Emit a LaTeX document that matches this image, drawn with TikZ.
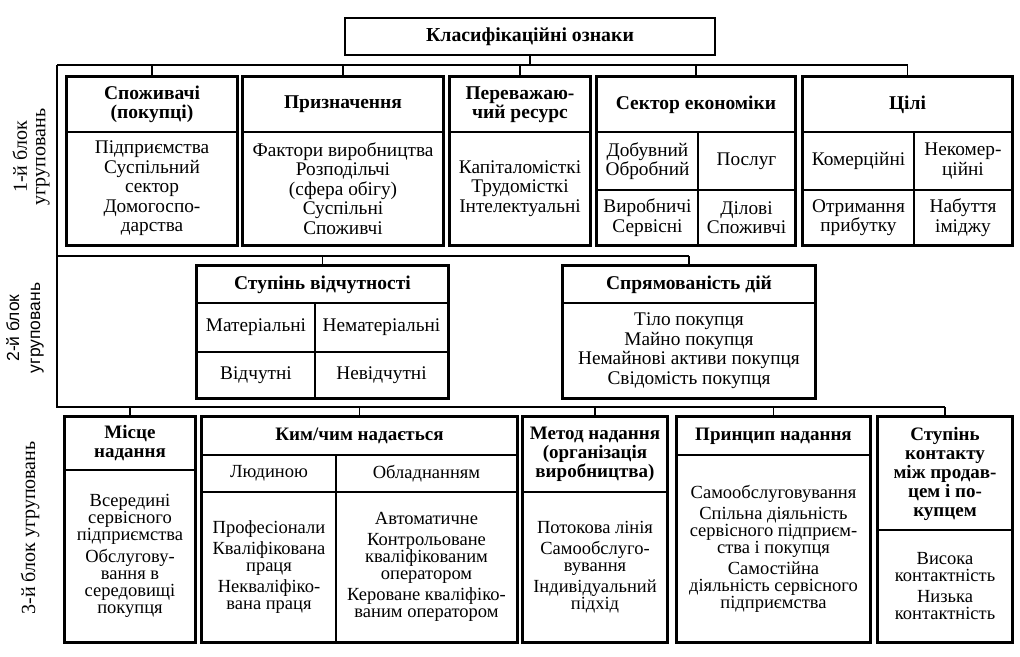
\documentclass[tikz,border=0pt]{standalone}
\usepackage{fontspec}
\setmainfont{Liberation Serif}
\setsansfont{Liberation Sans}
\usepackage{tikz}
\usetikzlibrary{fit}
\newcommand\bodyfont{\fontsize{19.3}{19.5}\selectfont}
\newcommand\tightfont{\fontsize{18.5}{17}\selectfont}

\begin{document}
\begin{tikzpicture}[x=1pt, y=-1pt,
cell/.style={draw, line width=1.1pt, inner sep=0pt, align=center, font=\bodyfont},
headcell/.style={cell, font=\fontsize{19.5}{19.5}\selectfont\bfseries},
lowcell/.style={cell, font=\tightfont},
lowhead/.style={cell, font=\fontsize{19}{19}\selectfont\bfseries},
outerbox/.style={draw, line width=2.4pt, inner sep=0pt},
bus/.style={line width=1.8pt}
]
\useasboundingbox (0,0) rectangle (1020,656);

\node[outerbox, font=\fontsize{19.8}{20}\selectfont\bfseries, minimum width=370, minimum height=37] (title) at (530,36.5) {Класифікаційні ознаки};

% 1-й блок
\node[headcell, minimum width=170, minimum height=55] (spoH) at (152,104.5) {Споживачі\\(покупці)};
\node[cell, minimum width=170, minimum height=113] (spoB) at (152,188.5) {Підприємства\\Суспільний\\сектор\\Домогоспо-\\дарства};
\node[outerbox, fit=(spoH)(spoB)] (spo) {};

\node[headcell, minimum width=200, minimum height=55] (pryH) at (343,104.5) {Призначення};
\node[cell, minimum width=200, minimum height=113] (pryB) at (343,188.5) {Фактори виробництва\\Розподільчі\\(сфера обігу)\\Суспільні\\Споживчі};
\node[outerbox, fit=(pryH)(pryB)] (pry) {};

\node[headcell, minimum width=140, minimum height=55] (perH) at (520,104.5) {Переважаю-\\чий ресурс};
\node[cell, minimum width=140, minimum height=113] (perB) at (520,188.5) {Капіталомісткі\\Трудомісткі\\Інтелектуальні};
\node[outerbox, fit=(perH)(perB)] (per) {};

\node[headcell, minimum width=198, minimum height=55] (sekH) at (696,104.5) {Сектор економіки};
\node[cell, minimum width=101, minimum height=58] (sekA) at (647.5,161) {Добувний\\Обробний};
\node[cell, minimum width=97, minimum height=58] (sekB) at (746.5,161) {Послуг};
\node[cell, minimum width=101, minimum height=55] (sekC) at (647.5,217.5) {Виробничі\\Сервісні};
\node[cell, minimum width=97, minimum height=55] (sekD) at (746.5,217.5) {Ділові\\Споживчі};
\node[outerbox, fit=(sekH)(sekA)(sekD)] (sek) {};

\node[headcell, minimum width=209, minimum height=55] (cilH) at (907.5,104.5) {Цілі};
\node[cell, minimum width=111, minimum height=58] (cilA) at (858.5,161) {Комерційні};
\node[cell, minimum width=98, minimum height=58] (cilB) at (963,161) {Некомер-\\ційні};
\node[cell, minimum width=111, minimum height=55] (cilC) at (858.5,217.5) {Отримання\\прибутку};
\node[cell, minimum width=98, minimum height=55] (cilD) at (963,217.5) {Набуття\\іміджу};
\node[outerbox, fit=(cilH)(cilA)(cilD)] (cil) {};

% 2-й блок
\node[headcell, minimum width=251, minimum height=37] (stvH) at (322.5,284.5) {Ступінь відчутності};
\node[cell, minimum width=118, minimum height=49] (stvA) at (256,327.5) {Матеріальні};
\node[cell, minimum width=133, minimum height=49] (stvB) at (381.5,327.5) {Нематеріальні};
\node[cell, minimum width=118, minimum height=46] (stvC) at (256,375) {Відчутні};
\node[cell, minimum width=133, minimum height=46] (stvD) at (381.5,375) {Невідчутні};
\node[outerbox, fit=(stvH)(stvA)(stvD)] (stv) {};

\node[headcell, minimum width=252, minimum height=37] (sprH) at (689,284.5) {Спрямованість дій};
\node[cell, minimum width=252, minimum height=95] (sprB) at (689,350.5) {Тіло покупця\\Майно покупця\\Немайнові активи покупця\\Свідомість покупця};
\node[outerbox, fit=(sprH)(sprB)] (spr) {};

% 3-й блок
\node[lowhead, minimum width=130, minimum height=53] (misH) at (130,443.5) {Місце\\надання};
\node[lowcell, minimum width=130, minimum height=172] (misB) at (130,556) {Всередині\\сервісного\\підприємства\\[4pt]Обслугову-\\вання в\\середовищі\\покупця};
\node[outerbox, fit=(misH)(misB)] (mis) {};

\node[lowhead, minimum width=315, minimum height=38] (kymH) at (359.5,436) {Ким/чим надається};
\node[lowcell, minimum width=134, minimum height=37] (kymA) at (269,473.5) {Людиною};
\node[lowcell, minimum width=181, minimum height=37] (kymB) at (426.5,473.5) {Обладнанням};
\node[lowcell, minimum width=134, minimum height=150] (kymC) at (269,567) {Професіонали\\[4pt]Кваліфікована\\праця\\[4pt]Некваліфіко-\\вана праця};
\node[lowcell, minimum width=181, minimum height=150] (kymD) at (426.5,567) {Автоматичне\\[4pt]Контрольоване\\кваліфікованим\\оператором\\[4pt]Кероване кваліфіко-\\ваним оператором};
\node[outerbox, fit=(kymH)(kymC)(kymD)] (kym) {};

\node[lowhead, minimum width=144, minimum height=75] (metH) at (595,454.5) {Метод надання\\(організація\\виробництва)};
\node[lowcell, minimum width=144, minimum height=150] (metB) at (595,567) {Потокова лінія\\[4pt]Самообслуго-\\вування\\[4pt]Індивідуальний\\підхід};
\node[outerbox, fit=(metH)(metB)] (met) {};

\node[lowhead, minimum width=193, minimum height=38] (prnH) at (773.5,436) {Принцип надання};
\node[lowcell, minimum width=193, minimum height=187] (prnB) at (773.5,548.5) {Самообслуговування\\[4pt]Спільна діяльність\\сервісного підприєм-\\ства і покупця\\[4pt]Самостійна\\діяльність сервісного\\підприємства};
\node[outerbox, fit=(prnH)(prnB)] (prn) {};

\node[lowhead, minimum width=134, minimum height=113] (stkH) at (945,473.5) {Ступінь\\контакту\\між продав-\\цем і по-\\купцем};
\node[lowcell, minimum width=134, minimum height=112] (stkB) at (945,586) {Висока\\контактність\\[4pt]Низька\\контактність};
\node[outerbox, fit=(stkH)(stkB)] (stk) {};

% підписи блоків
\node[rotate=90, align=center, font=\fontsize{20}{18.5}\selectfont] (blk1) at (31,157) {1-й блок\\угруповань};
\node[rotate=90, align=center, font=\sffamily\fontsize{17.5}{21}\selectfont] (blk2) at (25,328) {2-й блок\\угруповань};
\node[rotate=90, font=\fontsize{20}{20}\selectfont] (blk3) at (30,528) {3-й блок угруповань};

% лінії зв'язку
\coordinate (topbus) at (57,65);
\coordinate (midbus) at (57,256);
\coordinate (lowbus) at (57,407);
\draw[bus] (title.south) -- (title.south |- topbus);
\draw[bus] (topbus) -- (cil.north |- topbus);
\draw[bus] (topbus) -- (lowbus) -- (stk.north |- lowbus);
\draw[bus] (midbus) -- (spr.north |- midbus);

\draw[bus] (spo.north |- topbus) -- (spo.north);
\draw[bus] (pry.north |- topbus) -- (pry.north);
\draw[bus] (per.north |- topbus) -- (per.north);
\draw[bus] (sek.north |- topbus) -- (sek.north);
\draw[bus] (cil.north |- topbus) -- (cil.north);

\draw[bus] (stv.north |- midbus) -- (stv.north);
\draw[bus] (spr.north |- midbus) -- (spr.north);

\draw[bus] (mis.north |- lowbus) -- (mis.north);
\draw[bus] (kym.north |- lowbus) -- (kym.north);
\draw[bus] (met.north |- lowbus) -- (met.north);
\draw[bus] (prn.north |- lowbus) -- (prn.north);
\draw[bus] (stk.north |- lowbus) -- (stk.north);
\end{tikzpicture}
\end{document}
